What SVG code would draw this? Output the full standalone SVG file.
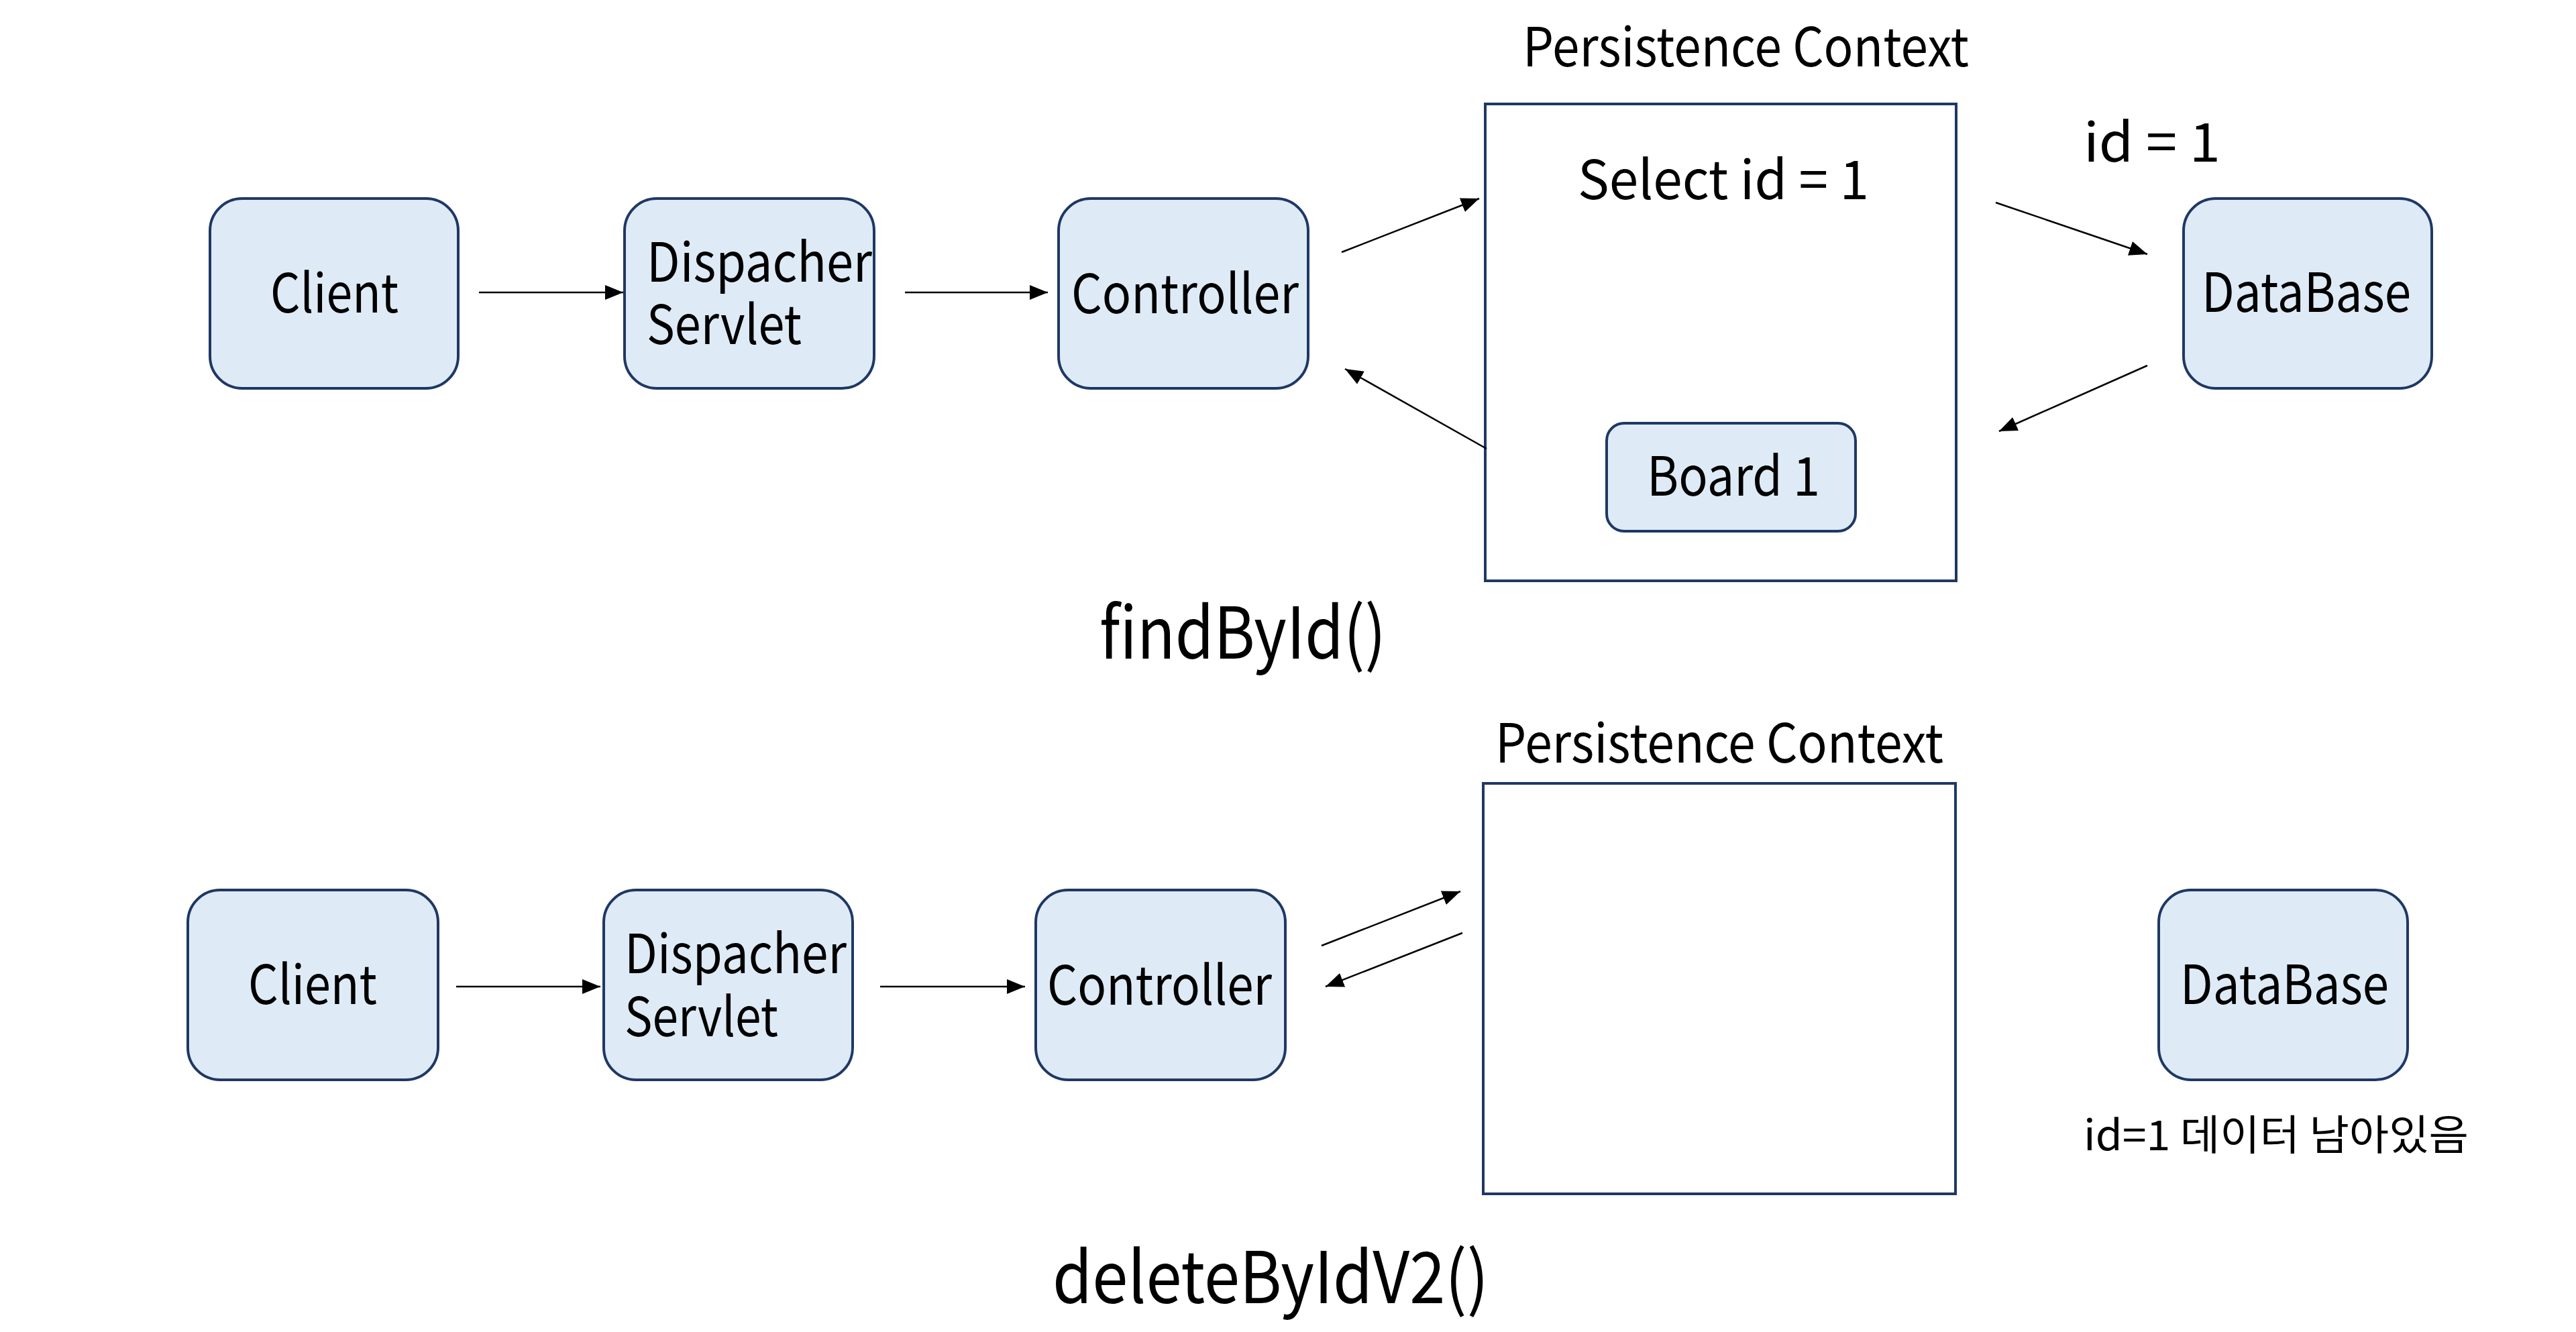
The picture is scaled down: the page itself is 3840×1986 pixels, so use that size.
<svg xmlns="http://www.w3.org/2000/svg" width="3840" height="1986" viewBox="0 0 3840 1986">
<defs>
<style>
.node{fill:#DEEBF7;stroke:#1F3864;stroke-width:4}
.frame{fill:#FFFFFF;stroke:#1F3864;stroke-width:4}
.t{font-family:"Noto Sans CJK KR","Noto Sans",sans-serif;fill:#000000;font-size:80px}
.big{font-size:106px}
.small{font-size:62px}
.conn line{stroke:#000000;stroke-width:2.5;marker-end:url(#arr)}
</style>
<marker id="arr" markerUnits="userSpaceOnUse" markerWidth="28" markerHeight="24" refX="27" refY="12" orient="auto" viewBox="0 0 28 24">
<path d="M0,1 L27,12 L0,23 z" fill="#000000"/>
</marker>
</defs>
<rect width="3840" height="1986" fill="#FFFFFF"/>

<!-- Top: findById() -->
<g id="pc-top">
<rect class="frame" x="2214" y="155" width="702" height="711"/>
<text class="t" x="2270" y="99" textLength="665" lengthAdjust="spacingAndGlyphs">Persistence Context</text>
<text class="t" x="2352" y="297" textLength="434" lengthAdjust="spacingAndGlyphs">Select id = 1</text>
</g>
<g id="client-top">
<rect class="node" x="313" y="296" width="370" height="283" rx="48"/>
<text class="t" x="403" y="466" textLength="191" lengthAdjust="spacingAndGlyphs">Client</text>
</g>
<g id="dispatcher-top">
<rect class="node" x="931" y="296" width="372" height="283" rx="48"/>
<text class="t"><tspan x="964" y="420" textLength="336" lengthAdjust="spacingAndGlyphs">Dispacher</tspan><tspan x="964" y="513" textLength="231" lengthAdjust="spacingAndGlyphs">Servlet</tspan></text>
</g>
<g id="controller-top">
<rect class="node" x="1578" y="296" width="372" height="283" rx="48"/>
<text class="t" x="1597" y="467" textLength="339" lengthAdjust="spacingAndGlyphs">Controller</text>
</g>
<g id="board1">
<rect class="node" x="2395" y="631" width="371" height="161" rx="26"/>
<text class="t" x="2455" y="739" textLength="258" lengthAdjust="spacingAndGlyphs">Board 1</text>
</g>
<g id="db-top">
<rect class="node" x="3255" y="296" width="370" height="283" rx="48"/>
<text class="t" x="3282" y="465" textLength="312" lengthAdjust="spacingAndGlyphs">DataBase</text>
</g>
<text id="label-id1" class="t" x="3106" y="241" textLength="204" lengthAdjust="spacingAndGlyphs">id = 1</text>
<text id="title-top" class="t big" x="1639" y="982" textLength="427" lengthAdjust="spacingAndGlyphs">findById()</text>

<!-- Bottom: deleteByIdV2() -->
<g id="pc-bottom">
<rect class="frame" x="2211" y="1168" width="704" height="612"/>
<text class="t" x="2229" y="1137" textLength="668" lengthAdjust="spacingAndGlyphs">Persistence Context</text>
</g>
<g id="client-bottom">
<rect class="node" x="280" y="1327" width="373" height="283" rx="48"/>
<text class="t" x="370" y="1497" textLength="192" lengthAdjust="spacingAndGlyphs">Client</text>
</g>
<g id="dispatcher-bottom">
<rect class="node" x="900" y="1327" width="371" height="283" rx="48"/>
<text class="t"><tspan x="931" y="1451" textLength="331" lengthAdjust="spacingAndGlyphs">Dispacher</tspan><tspan x="931" y="1545" textLength="229" lengthAdjust="spacingAndGlyphs">Servlet</tspan></text>
</g>
<g id="controller-bottom">
<rect class="node" x="1544" y="1327" width="372" height="283" rx="48"/>
<text class="t" x="1561" y="1498" textLength="335" lengthAdjust="spacingAndGlyphs">Controller</text>
</g>
<g id="db-bottom">
<rect class="node" x="3218" y="1327" width="371" height="283" rx="48"/>
<text class="t" x="3250" y="1497" textLength="311" lengthAdjust="spacingAndGlyphs">DataBase</text>
</g>
<text id="label-remain" class="t small" x="3106" y="1715" textLength="574" lengthAdjust="spacingAndGlyphs">id=1 데이터 남아있음</text>
<text id="title-bottom" class="t big" x="1569" y="1943" textLength="650" lengthAdjust="spacingAndGlyphs">deleteByIdV2()</text>

<g id="connectors" class="conn">
<line x1="714" y1="436" x2="929" y2="436"/>
<line x1="1349" y1="436" x2="1562" y2="436"/>
<line x1="2000" y1="376" x2="2205" y2="296"/>
<line x1="2216" y1="669" x2="2005" y2="550"/>
<line x1="2975" y1="302" x2="3201" y2="379"/>
<line x1="3201" y1="545" x2="2980" y2="643"/>
<line x1="680" y1="1471" x2="895" y2="1471"/>
<line x1="1312" y1="1471" x2="1528" y2="1471"/>
<line x1="1970" y1="1410" x2="2177" y2="1329"/>
<line x1="2180" y1="1391" x2="1976" y2="1471"/>
</g>
</svg>
